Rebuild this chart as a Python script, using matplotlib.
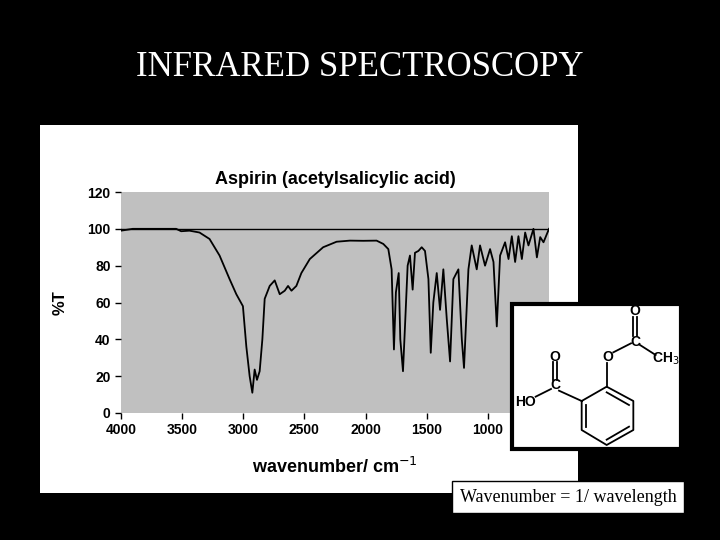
import matplotlib
matplotlib.use("Agg")
import matplotlib.pyplot as plt
from matplotlib.patches import Rectangle

wavenumber = [4000,3904,3549,3508,3440,3358,3276,3194,3112,3057,3003,2975,2948,2926,2907,2888,2866,2844,2825,2784,2743,2702,2661,2634,2606,2566,2525,2456,2347,2237,2128,2019,1910,1855,1814,1787,1768,1752,1729,1716,1694,1675,1656,1637,1615,1596,1568,1541,1514,1486,1467,1446,1418,1391,1364,1336,1309,1282,1241,1213,1195,1159,1132,1091,1064,1023,982,954,927,900,859,831,804,777,750,722,695,668,627,599,572,545,500]
transmittance = [99,100,100,98.7,99,98,94.5,85.5,72.7,64.5,58,36,20,11,23.6,18,22.7,40,62,69,72,64.5,66.4,69,66.4,69,76,83.6,90,93,93.6,93.5,93.6,91.8,89,78,34.5,65.5,76,40,22.7,51,80,85.5,67,87,88,90,88,72.7,32.7,60,76,56,78,51,28,72.7,78,40,24.5,78,91,78,91,80,89,82,47,85.5,92.7,83.6,96,82,96,83.6,98,91,100,84.5,95.5,92.7,100]
xticks = [4000,3500,3000,2500,2000,1500,1000,500]
yticks = [0,20,40,60,80,100,120]

W, H = 720, 540
def rect(x0, y0, x1, y1):
    return [x0/W, 1-y1/H, (x1-x0)/W, (y1-y0)/H]

fig = plt.figure(figsize=(7.2,5.4), dpi=100, facecolor='black')
fig.text(360/W, 1-68/H, "INFRARED SPECTROSCOPY", color='white', ha='center', va='center',
         fontsize=25, family='Liberation Serif')
bg = fig.add_axes(rect(40,125,578,493))
bg.set_facecolor('white'); bg.set_xticks([]); bg.set_yticks([])
for s in bg.spines.values():
    s.set_visible(False)

ax = fig.add_axes(rect(121,192,549,413))
ax.set_facecolor('#c0c0c0')
ax.plot(wavenumber, transmittance, color='black', lw=1.3)
ax.axhline(100, color='black', lw=1)
ax.set_xlim(4000, 500)
ax.set_ylim(0, 120)
ax.set_xticks(xticks)
ax.set_yticks(yticks)
ax.set_xticklabels([str(t) if t != 500 else '' for t in xticks])
for s in ax.spines.values():
    s.set_visible(False)
ax.tick_params(direction='out', length=4, labelsize=10, width=1)
for lab in ax.get_xticklabels()+ax.get_yticklabels():
    lab.set_fontweight('bold'); lab.set_family('Liberation Sans')
ax.set_title("Aspirin (acetylsalicylic acid)", fontsize=13, fontweight='bold',
             family='Liberation Sans', pad=6)
ax.set_ylabel("%T", fontsize=12, fontweight='bold', family='Liberation Sans', labelpad=14)
ax.set_xlabel("wavenumber/ cm$^{-1}$", fontsize=13, fontweight='bold', family='Liberation Sans', labelpad=14)

# structure inset
ia = fig.add_axes(rect(505,295,690,455))
ia.set_xlim(0,555); ia.set_ylim(480,0); ia.axis('off')
ia.add_patch(Rectangle((22,27),506,436, facecolor='white', edgecolor='black', lw=3))
ring = [(230,318),(305,275),(385,318),(385,405),(305,450),(230,405),(230,318)]
ia.plot([p[0] for p in ring],[p[1] for p in ring], color='black', lw=1.3)
for (a,b) in [((305,292),(372,330)),((372,395),(305,434)),((243,395),(243,330))]:
    ia.plot([a[0],b[0]],[a[1],b[1]], color='black', lw=1.3)
lines = [((305,275),(305,205)),((325,172),(378,145)),((383,65),(383,123)),((396,65),(396,123)),
         ((405,150),(452,180)),((144,200),(144,255)),((157,200),(157,255)),
         ((92,305),(138,282)),((162,287),(230,318))]
for a,b in lines:
    ia.plot([a[0],b[0]],[a[1],b[1]], color='black', lw=1.3)
tk = dict(ha='center', va='center', fontsize=10, family='Liberation Sans', color='black', fontweight='bold')
ia.text(308,185,"O",**tk); ia.text(390,140,"C",**tk); ia.text(390,48,"O",**tk)
ia.text(482,192,"CH$_3$",**tk); ia.text(150,270,"C",**tk); ia.text(150,185,"O",**tk)
ia.text(62,320,"HO",**tk)

fig.text(568/W, 1-497/H, "Wavenumber = 1/ wavelength", ha='center', va='center', fontsize=13,
         family='Liberation Serif', color='black',
         bbox=dict(facecolor='white', edgecolor='black', boxstyle='square,pad=0.4'))

fig.savefig("out.png", dpi=100, facecolor='black')
